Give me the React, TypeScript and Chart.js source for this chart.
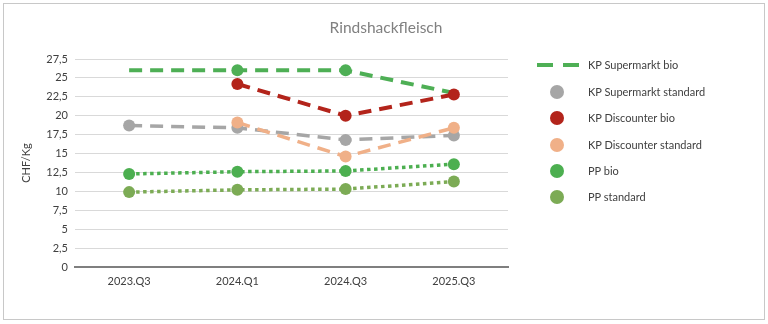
import React, { useEffect, useRef } from "react";
import { Chart, registerables } from "chart.js";

Chart.register(...registerables);

const categories = ["2023.Q3", "2024.Q1", "2024.Q3", "2025.Q3"];
const yTicks = [0, 2.5, 5, 7.5, 10, 12.5, 15, 17.5, 20, 22.5, 25, 27.5];

const kpSupermarktBio = [26, 26, 26, 23];
const kpSupermarktStandard = [18.7, 18.4, 16.8, 17.4];
const kpDiscounterBio = [null, 24.2, 20, 22.8];
const kpDiscounterStandard = [null, 19.1, 14.6, 18.4];
const ppBio = [12.3, 12.6, 12.7, 13.6];
const ppStandard = [9.9, 10.2, 10.3, 11.3];

const seriesNames = [
  "KP Supermarkt bio",
  "KP Supermarkt standard",
  "KP Discounter bio",
  "KP Discounter standard",
  "PP bio",
  "PP standard",
];

const GREEN = "#4EAF55";
const GREY = "#A6A6A6";
const RED = "#B3241B";
const PEACH = "#F0B088";
const GREEN2 = "#4CAF50";
const OLIVE = "#7CAB55";

const FONT = "Lato, 'Open Sans', sans-serif";

export default function App() {
  const ref = useRef<HTMLCanvasElement | null>(null);

  useEffect(() => {
    if (!ref.current) return;
    const ds = (label: string, data: (number | null)[], color: string, dash: number[], width: number, radius: number | number[]) => ({
      label,
      data,
      borderColor: color,
      backgroundColor: color,
      pointBackgroundColor: color,
      pointBorderColor: color,
      pointBorderWidth: 0,
      borderWidth: width,
      borderDash: dash,
      pointRadius: radius,
      pointHoverRadius: radius,
      tension: 0,
      spanGaps: false,
    });
    const chart = new Chart(ref.current, {
      type: "line",
      data: {
        labels: categories,
        datasets: [
          ds(seriesNames[0], kpSupermarktBio, GREEN, [13, 8], 4, [0, 6, 6, 0]),
          ds(seriesNames[1], kpSupermarktStandard, GREY, [13, 8], 3.5, 6),
          ds(seriesNames[2], kpDiscounterBio, RED, [13, 8], 4, 6),
          ds(seriesNames[3], kpDiscounterStandard, PEACH, [13, 8], 3.5, 6),
          ds(seriesNames[4], ppBio, GREEN2, [3.5, 3.5], 3.5, 6),
          ds(seriesNames[5], ppStandard, OLIVE, [3.5, 3.5], 3.5, 6),
        ].reverse() as any,
      },
      options: {
        animation: false,
        responsive: false,
        maintainAspectRatio: false,
        layout: { padding: { left: 20, right: 260, top: 59, bottom: 0 } },
        plugins: {
          legend: { display: false },
          title: { display: false },
          tooltip: { enabled: false },
        },
        scales: {
          x: {
            type: "category",
            offset: true,
            grid: { display: false, drawTicks: false },
            border: { display: true, color: "#7F7F7F", width: 2 },
            ticks: { color: "#404040", font: { family: FONT, size: 11 }, padding: 8, maxRotation: 0 },
            afterFit: (s: any) => { s.height = 57; },
          },
          y: {
            min: 0,
            max: 27.5,
            afterBuildTicks: (s: any) => { s.ticks = yTicks.map((v) => ({ value: v })); },
            grid: { color: "#D9D9D9", lineWidth: 1, drawTicks: false },
            border: { display: false },
            ticks: {
              color: "#404040",
              font: { family: FONT, size: 11 },
              padding: 7,
              callback: (v: any) => String(v).replace(".", ","),
            },
            title: {
              display: true,
              text: "CHF/Kg",
              color: "#404040",
              font: { family: FONT, size: 11 },
              padding: 0,
            },
            afterFit: (s: any) => { s.width = 55; },
          },
        },
      },
    });
    return () => chart.destroy();
  }, []);

  const legendColors = [GREEN, GREY, RED, PEACH, GREEN2, OLIVE];
  const rowY = [65, 91.5, 118, 144.5, 171, 197];

  return (
    <div style={{ position: "absolute", left: 0, top: 0, width: 768, height: 324, background: "#fff", fontFamily: FONT }}>
      <div style={{ position: "absolute", left: 3, top: 3, width: 760, height: 315, border: "1px solid #C8C8C8" }} />
      <canvas ref={ref} width={768} height={324} style={{ position: "absolute", left: 0, top: 0 }} />
      <div style={{ position: "absolute", left: 0, width: 768, top: 17, textAlign: "center", fontSize: 15.5, color: "#808080", lineHeight: "20px", paddingLeft: 2 }}>
        Rindshackfleisch
      </div>
      {seriesNames.map((n, i) => (
        <React.Fragment key={n}>
          {i === 0 ? (
            <div style={{ position: "absolute", left: 537, top: rowY[i] - 2, width: 42, height: 4, background: `linear-gradient(to right, ${legendColors[i]} 0 16px, transparent 16px 26px, ${legendColors[i]} 26px 42px)` }} />
          ) : (
            <div style={{ position: "absolute", left: 550, top: rowY[i] - 7, width: 14, height: 14, borderRadius: 7, background: legendColors[i] }} />
          )}
          <div style={{ position: "absolute", left: 588, top: rowY[i] - 8, fontSize: 11, lineHeight: "16px", color: "#404040", whiteSpace: "nowrap" }}>{n}</div>
        </React.Fragment>
      ))}
    </div>
  );
}
